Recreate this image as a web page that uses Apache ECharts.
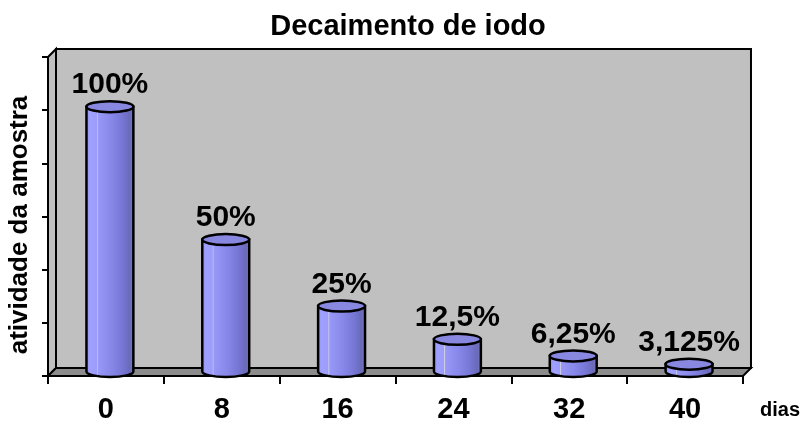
<!DOCTYPE html>
<html>
<head>
<meta charset="utf-8">
<script src="https://cdn.jsdelivr.net/npm/echarts@6/dist/echarts.min.js"></script>
<style>
  html, body { margin: 0; padding: 0; background: #ffffff; }
  #chart { width: 803px; height: 424px; }
</style>
</head>
<body>
<div id="chart"></div>
<script>
// ---- data ----
const titleText = 'Decaimento de iodo';
const categories = ['0', '8', '16', '24', '32', '40'];
const values = [100, 50, 25, 12.5, 6.25, 3.125];
const yAxisTitle = 'atividade da amostra';
const xAxisTitle = 'dias';
const yMin = 0, yMax = 120, yInterval = 20;

const FONT = 'Liberation Sans, Arial, Helvetica, sans-serif';
const DEPTH = 8;

function fmt(v) { return String(v).replace('.', ',') + '%'; }

const chart = echarts.init(document.getElementById('chart'), null, { renderer: 'canvas' });

const bodyGradient = new echarts.graphic.LinearGradient(0, 0, 1, 0, [
  { offset: 0.00, color: '#9090F0' },
  { offset: 0.10, color: '#A0A0FF' },
  { offset: 0.23, color: '#9C9CFC' },
  { offset: 0.24, color: '#D4D4E4' },
  { offset: 0.26, color: '#9898F8' },
  { offset: 0.55, color: '#8686E8' },
  { offset: 0.78, color: '#7474D2' },
  { offset: 0.90, color: '#6A6AB8' },
  { offset: 1.00, color: '#7C7CC8' }
]);

const option = {
  backgroundColor: '#ffffff',
  animation: false,
  title: {
    text: titleText,
    left: 408,
    textAlign: 'center',
    top: 12,
    padding: 0,
    textStyle: { fontFamily: FONT, fontSize: 29, fontWeight: 'bold', color: '#000' }
  },
  grid: { left: 48, right: 60, top: 57, bottom: 48, containLabel: false },
  xAxis: {
    type: 'category',
    data: categories,
    boundaryGap: true,
    name: xAxisTitle,
    nameLocation: 'end',
    nameGap: 17,
    nameTextStyle: {
      fontFamily: FONT, fontSize: 20, fontWeight: 'bold', color: '#000',
      align: 'left', verticalAlign: 'top', padding: [24, 0, 0, 0]
    },
    axisLine: { show: true, lineStyle: { color: '#000', width: 2 } },
    axisTick: { show: true, length: 8, lineStyle: { color: '#000', width: 2 } },
    axisLabel: { fontFamily: FONT, fontSize: 29, fontWeight: 'bold', color: '#000', margin: 19 },
    splitLine: { show: false }
  },
  yAxis: {
    type: 'value',
    min: yMin, max: yMax, interval: yInterval,
    axisLine: { show: true, lineStyle: { color: '#000', width: 2 } },
    axisTick: { show: true, length: 6, lineStyle: { color: '#000', width: 2 } },
    axisLabel: { show: false },
    splitLine: { show: false }
  },
  graphic: [{
    type: 'text',
    x: 20, y: 225,
    rotation: Math.PI / 2,
    style: {
      text: yAxisTitle,
      font: 'bold 26px ' + FONT,
      fill: '#000',
      align: 'center',
      verticalAlign: 'middle'
    }
  }],
  series: [
    {
      name: 'walls',
      type: 'custom',
      silent: true,
      clip: false,
      z: 1,
      data: [[0, 0]],
      encode: { x: 0, y: 1 },
      renderItem: function (params, api) {
        const band = api.size([1, 0])[0];
        const p0 = api.coord([0, yMin]);
        const pN = api.coord([categories.length - 1, yMin]);
        const pT = api.coord([0, yMax]);
        const L = p0[0] - band / 2, R = pN[0] + band / 2, B = p0[1], T = pT[1];
        const d = DEPTH;
        const stroke = { stroke: '#000', lineWidth: 2 };
        return {
          type: 'group',
          children: [
            { type: 'rect', shape: { x: L + d, y: T - d, width: R - L, height: B - T },
              style: Object.assign({ fill: '#C0C0C0' }, stroke) },
            { type: 'polygon', shape: { points: [[L, T], [L + d, T - d], [L + d, B - d], [L, B]] },
              style: Object.assign({ fill: '#C0C0C0' }, stroke) },
            { type: 'polygon', shape: { points: [[L, B], [L + d, B - d], [R + d, B - d], [R, B]] },
              style: Object.assign({ fill: '#8C8C8C' }, stroke) }
          ]
        };
      }
    },
    {
      name: 'atividade',
      type: 'custom',
      clip: false,
      z: 3,
      data: values.map(function (v, i) { return [i, v]; }),
      encode: { x: 0, y: 1 },
      renderItem: function (params, api) {
        const i = api.value(0), v = api.value(1);
        const base = api.coord([i, 0]);
        const top = api.coord([i, v]);
        const band = api.size([1, 0])[0];
        const w = band * 0.405;
        const rx = w / 2, ry = 5.5;
        const cx = base[0] + DEPTH / 2;
        const yb = base[1] - DEPTH / 2 - 0.5;
        const yt = top[1] - DEPTH / 2 + 0.5;
        const l = cx - rx, r = cx + rx;
        const body = 'M ' + l + ' ' + yt + ' L ' + l + ' ' + yb +
          ' A ' + rx + ' ' + ry + ' 0 0 0 ' + r + ' ' + yb +
          ' L ' + r + ' ' + yt + ' Z';
        return {
          type: 'group',
          children: [
            { type: 'path', shape: { pathData: body },
              style: { fill: bodyGradient, stroke: '#000', lineWidth: 2.5 } },
            { type: 'ellipse', shape: { cx: cx, cy: yt, rx: rx, ry: ry },
              style: { fill: '#8888E0', stroke: '#000', lineWidth: 2.5 } },
            { type: 'text', x: cx, y: yt - ry - 1,
              style: { text: fmt(v), font: 'bold 30px ' + FONT, fill: '#000',
                       align: 'center', verticalAlign: 'bottom' } }
          ]
        };
      }
    }
  ]
};

chart.setOption(option);
</script>
</body>
</html>
